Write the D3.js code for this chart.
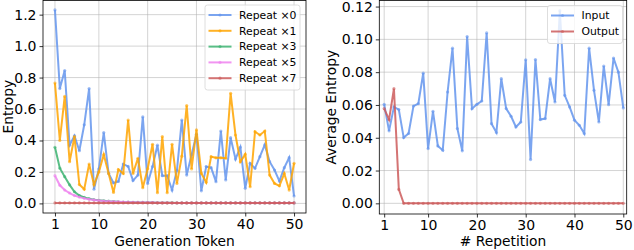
<!DOCTYPE html>
<html lang="en">
<head>
  <meta charset="UTF-8">
  <title>Entropy vs. generation token and repetition</title>
  <script src="https://d3js.org/d3.v7.min.js"></script>
  <style>
    body { margin: 0; background: #fff; font-family: "DejaVu Sans", sans-serif; }
    .grid line { stroke: #b0b0b0; stroke-opacity: 0.55; stroke-width: 1; }
    .tick text { font-size: 14px; fill: #000; }
    .axis-label { font-size: 13.8px; fill: #000; }
    .legend text { font-size: 10.8px; fill: #000; }
    .series { fill: none; stroke-width: 2px; stroke-opacity: 0.85; }
  </style>
</head>
<body>
  <svg width="634" height="250"></svg>

  <script>
    // ---- data ----
    const tokens = d3.range(1, 51);            // generation token / repetition index 1..50
    const xTicks = [1, 10, 20, 30, 40, 50];
    const leftYTicks = [0, 0.2, 0.4, 0.6, 0.8, 1.0, 1.2];
    const rightYTicks = [0, 0.02, 0.04, 0.06, 0.08, 0.10, 0.12];

    const repeatLabels = ["Repeat ×0", "Repeat ×1", "Repeat ×3", "Repeat ×5", "Repeat ×7"];
    const repeat0 = [1.23, 0.73, 0.845, 0.37, 0.43, 0.335, 0.50, 0.73, 0.09, 0.22,
                     0.45, 0.19, 0.13, 0.14, 0.25, 0.235, 0.145, 0.18, 0.55, 0.127,
                     0.234, 0.37, 0.176, 0.176, 0.085, 0.21, 0.53, 0.18, 0.31, 0.44,
                     0.08, 0.234, 0.227, 0.138, 0.46, 0.149, 0.418, 0.282, 0.357, 0.096,
                     0.255, 0.223, 0.297, 0.372, 0.265, 0.212, 0.142, 0.227, 0.291, 0.047];
    const repeat1 = [0.765, 0.40, 0.68, 0.265, 0.425, 0.12, 0.09, 0.25, 0.12, 0.20,
                     0.31, 0.19, 0.07, 0.215, 0.19, 0.53, 0.19, 0.287, 0.10, 0.22,
                     0.376, 0.068, 0.425, 0.068, 0.376, 0.127, 0.30, 0.622, 0.219, 0.467,
                     0.191, 0.134, 0.297, 0.29, 0.29, 0.287, 0.70, 0.435, 0.265, 0.312,
                     0.106, 0.456, 0.435, 0.46, 0.18, 0.127, 0.112, 0.19, 0.085, 0.255];
    const repeat3 = [0.357, 0.224, 0.17, 0.118, 0.074, 0.05, 0.038, 0.03, 0.024, 0.02,
                     0.017, 0.014, 0.012, 0.01, 0.009, 0.008, 0.007, 0.006, 0.006, 0.005,
                     0.005, 0.004, 0.004, 0.004, 0.004, 0.003, 0.003, 0.003, 0.003, 0.003,
                     0.003, 0.003, 0.003, 0.003, 0.003, 0.003, 0.003, 0.003, 0.003, 0.003,
                     0.003, 0.003, 0.003, 0.003, 0.003, 0.003, 0.003, 0.003, 0.003, 0.003];
    const repeat5 = [0.176, 0.115, 0.085, 0.066, 0.05, 0.04, 0.032, 0.026, 0.022, 0.018,
                     0.015, 0.013, 0.011, 0.01, 0.009, 0.008, 0.007, 0.006, 0.006, 0.005,
                     0.005, 0.004, 0.004, 0.004, 0.003, 0.003, 0.003, 0.003, 0.003, 0.003,
                     0.003, 0.003, 0.003, 0.003, 0.003, 0.003, 0.003, 0.003, 0.003, 0.003,
                     0.003, 0.003, 0.003, 0.003, 0.003, 0.003, 0.003, 0.003, 0.003, 0.003];
    const repeat7 = [0.003, 0.003, 0.003, 0.003, 0.003, 0.003, 0.003, 0.003, 0.003, 0.003,
                     0.003, 0.003, 0.003, 0.003, 0.003, 0.003, 0.003, 0.003, 0.003, 0.003,
                     0.003, 0.003, 0.003, 0.003, 0.003, 0.003, 0.003, 0.003, 0.003, 0.003,
                     0.003, 0.003, 0.003, 0.003, 0.003, 0.003, 0.003, 0.003, 0.003, 0.003,
                     0.003, 0.003, 0.003, 0.003, 0.003, 0.003, 0.003, 0.003, 0.003, 0.003];

    const repLabels = ["Input", "Output"];
    const inputEntropy = [0.0604, 0.0442, 0.0588, 0.0572, 0.0401, 0.0426, 0.0593, 0.0608, 0.0794, 0.0334,
                          0.0561, 0.0350, 0.0324, 0.0679, 0.0946, 0.0456, 0.0320, 0.1017, 0.0577, 0.0604,
                          0.0624, 0.1039, 0.0486, 0.0432, 0.0760, 0.0578, 0.0531, 0.0466, 0.0496, 0.0875,
                          0.0267, 0.0877, 0.0511, 0.0517, 0.0760, 0.0618, 0.1175, 0.0659, 0.0588, 0.0507,
                          0.0476, 0.0426, 0.0946, 0.0689, 0.0496, 0.0837, 0.0602, 0.0886, 0.0800, 0.0582];
    const outputEntropy = [0.0578, 0.0511, 0.0699, 0.0085, 0, 0, 0, 0, 0, 0,
                           0, 0, 0, 0, 0, 0, 0, 0, 0, 0,
                           0, 0, 0, 0, 0, 0, 0, 0, 0, 0,
                           0, 0, 0, 0, 0, 0, 0, 0, 0, 0,
                           0, 0, 0, 0, 0, 0, 0, 0, 0, 0];

    const svg = d3.select("svg");

    function panel(opts) {
      const { x0, x1, y0, y1, xDomain, yDomain, yTicks, yFmt, series, xLabel, yLabel, yLabelX, legend } = opts;
      const x = d3.scaleLinear().domain(xDomain).range([x0, x1]);
      const y = d3.scaleLinear().domain(yDomain).range([y1, y0]);
      const g = svg.append("g");

      // grid
      const grid = g.append("g").attr("class", "grid");
      grid.selectAll(".gx").data(xTicks).enter().append("line")
        .attr("x1", d => x(d)).attr("x2", d => x(d)).attr("y1", y0).attr("y2", y1);
      grid.selectAll(".gy").data(yTicks).enter().append("line")
        .attr("x1", x0).attr("x2", x1).attr("y1", d => y(d)).attr("y2", d => y(d));

      // series
      const line = d3.line().x((d, i) => x(tokens[i])).y(d => y(d));
      series.forEach(s => {
        g.append("path").datum(s.values).attr("class", "series").attr("stroke", s.color).attr("d", line);
        g.selectAll(null).data(s.values).enter().append("circle")
          .attr("cx", (d, i) => x(tokens[i])).attr("cy", d => y(d))
          .attr("r", 1.6).attr("fill", s.color).attr("fill-opacity", 0.6);
      });

      // axes
      const ax = g.append("g").attr("transform", `translate(0,${y1})`)
        .call(d3.axisBottom(x).tickValues(xTicks).tickSize(3.5).tickPadding(3));
      const ay = g.append("g").attr("transform", `translate(${x0},0)`)
        .call(d3.axisLeft(y).tickValues(yTicks).tickFormat(d3.format(yFmt)).tickSize(3.5).tickPadding(3));
      [ax, ay].forEach(a => {
        a.select(".domain").remove();
        a.selectAll(".tick line").attr("stroke", "#000").attr("stroke-width", 0.8);
        a.selectAll(".tick text").attr("font-family", "DejaVu Sans");
      });
      g.append("rect").attr("x", x0).attr("y", y0).attr("width", x1 - x0).attr("height", y1 - y0)
        .attr("fill", "none").attr("stroke", "#000").attr("stroke-width", 0.8);

      g.append("text").attr("class", "axis-label").attr("text-anchor", "middle")
        .attr("x", (x0 + x1) / 2).attr("y", 246).text(xLabel);
      g.append("text").attr("class", "axis-label").attr("text-anchor", "middle")
        .attr("transform", `translate(${yLabelX},${(y0 + y1) / 2}) rotate(-90)`).text(yLabel);

      // legend
      const lg = g.append("g").attr("class", "legend");
      lg.append("rect").attr("x", legend.x).attr("y", legend.y).attr("width", legend.w)
        .attr("height", legend.step * series.length + 6).attr("rx", 2.5)
        .attr("fill", "#fff").attr("fill-opacity", 0.8).attr("stroke", "#d6d6d6").attr("stroke-width", 0.8);
      series.forEach((s, i) => {
        const ry = legend.y + 10 + i * legend.step;
        lg.append("line").attr("x1", legend.x + 3.5).attr("x2", legend.x + 26.5)
          .attr("y1", ry).attr("y2", ry).attr("stroke", s.color).attr("stroke-width", 2).attr("stroke-opacity", 0.85);
        lg.append("circle").attr("cx", legend.x + 15).attr("cy", ry).attr("r", 1.6)
          .attr("fill", s.color).attr("fill-opacity", 0.6);
        lg.append("text").attr("x", legend.x + 34).attr("y", ry + 3.8).text(s.label);
      });
    }

    panel({
      x0: 43, x1: 306, y0: 0.5, y1: 213,
      xDomain: [-1.45, 52.45], yDomain: [-0.061, 1.29],
      yTicks: leftYTicks, yFmt: ".1f",
      series: [
        { label: repeatLabels[0], values: repeat0, color: "cornflowerblue" },
        { label: repeatLabels[1], values: repeat1, color: "orange" },
        { label: repeatLabels[2], values: repeat3, color: "mediumseagreen" },
        { label: repeatLabels[3], values: repeat5, color: "violet" },
        { label: repeatLabels[4], values: repeat7, color: "indianred" }
      ],
      xLabel: "Generation Token", yLabel: "Entropy", yLabelX: 12.5,
      legend: { x: 205, y: 5, w: 95, step: 15.8 }
    });

    panel({
      x0: 379.3, x1: 626.7, y0: 0.5, y1: 214,
      xDomain: [0, 50.7], yDomain: [-0.0065, 0.1237],
      yTicks: rightYTicks, yFmt: ".2f",
      series: [
        { label: repLabels[0], values: inputEntropy, color: "cornflowerblue" },
        { label: repLabels[1], values: outputEntropy, color: "indianred" }
      ],
      xLabel: "# Repetition", yLabel: "Average Entropy", yLabelX: 336,
      legend: { x: 547.5, y: 5.5, w: 75, step: 16 }
    });
  </script>
</body>
</html>
